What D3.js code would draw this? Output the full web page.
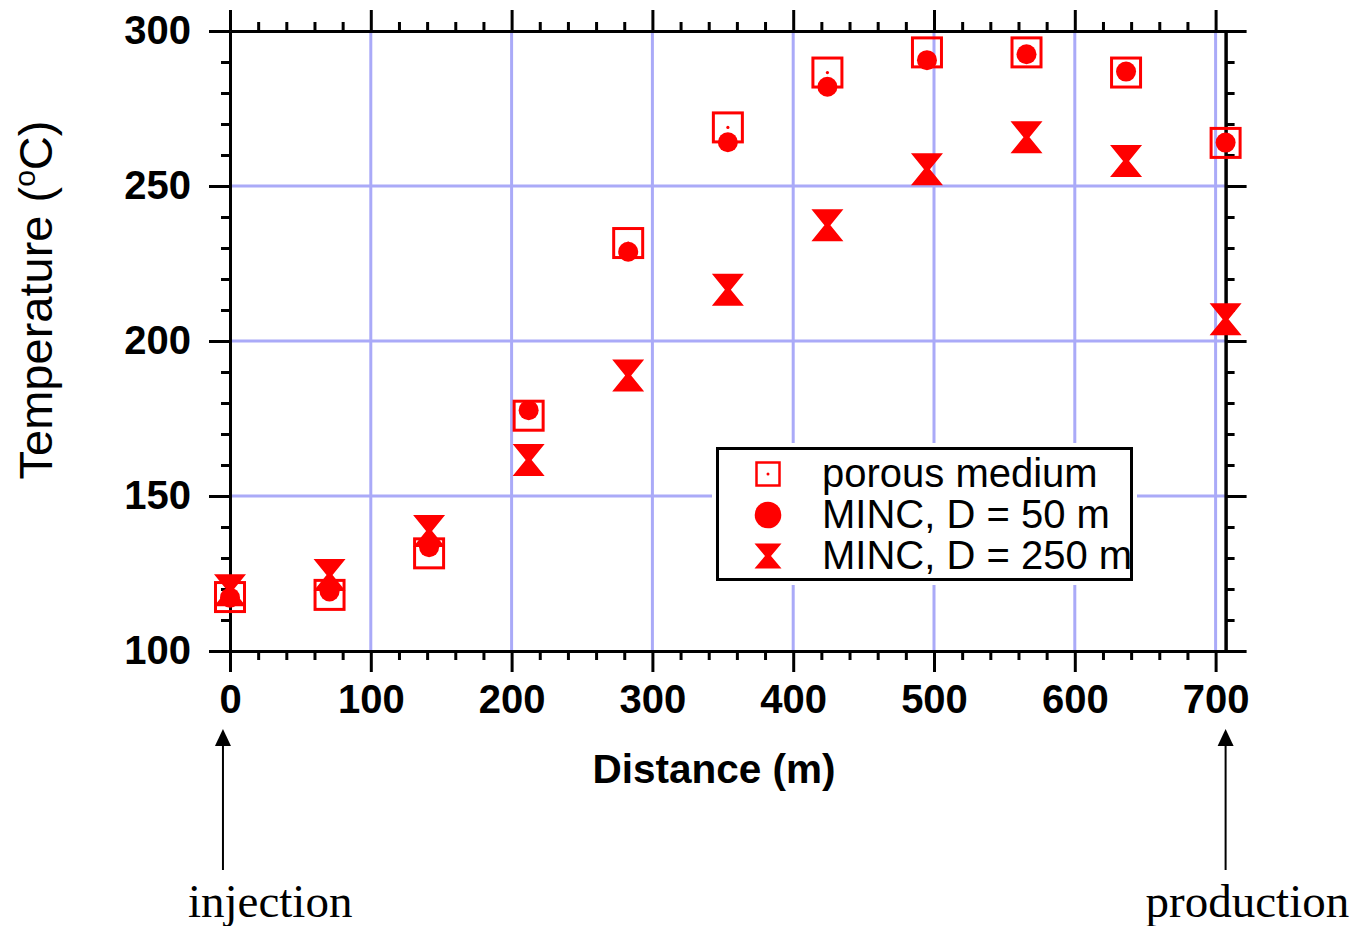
<!DOCTYPE html>
<html>
<head>
<meta charset="utf-8">
<script src="https://cdn.jsdelivr.net/npm/d3@7"></script>
<style>
  body { margin: 0; background: #fff; }
  svg { display: block; }
</style>
</head>
<body>
<svg class="chart"></svg>
<script>
// distance along the flow path (m)
var distance = [0, 70.7, 141.4, 212.1, 282.8, 353.6, 424.3, 495.0, 565.7, 636.4, 707.1];
// temperatures (C)
var porous  = [117.4, 118.1, 131.5, 175.9, 231.6, 268.9, 286.6, 293.1, 293.1, 286.6, 263.9];
var minc50  = [117.2, 119.2, 133.5, 177.7, 228.8, 264.1, 282.0, 290.6, 292.5, 286.9, 264.0];
var minc250 = [119.6, 124.5, 138.7, 161.6, 188.9, 216.5, 237.3, 255.4, 265.7, 258.1, 207.0];

var seriesNames = ["porous medium", "MINC, D = 50 m", "MINC, D = 250 m"];
var xMajor = [0, 100, 200, 300, 400, 500, 600, 700];
var xMinor = [20, 40, 60, 80, 120, 140, 160, 180, 220, 240, 260, 280, 320, 340, 360, 380,
              420, 440, 460, 480, 520, 540, 560, 580, 620, 640, 660, 680];
var yMajor = [100, 150, 200, 250, 300];
var yMinor = [110, 120, 130, 140, 160, 170, 180, 190, 210, 220, 230, 240, 260, 270, 280, 290];
var xGrid = [100, 200, 300, 400, 500, 600, 700];
var yGrid = [150, 200, 250];

var W = 1354, H = 926;
var pL = 230, pR = 1225.6, pT = 31, pB = 651;
var red = "#ff0000", gridCol = "#aaaaf8";
var sans = "'Liberation Sans', Arial, sans-serif";
var serif = "'Liberation Serif', 'Times New Roman', serif";

var x = d3.scaleLinear().domain([0, 707.1]).range([pL, pR]);
var y = d3.scaleLinear().domain([100, 300]).range([pB, pT]);

var svg = d3.select(".chart").attr("width", W).attr("height", H);
svg.append("rect").attr("width", W).attr("height", H).attr("fill", "#fff");

// grid
svg.append("g").selectAll("line").data(xGrid).enter().append("line")
    .attr("x1", x).attr("x2", x).attr("y1", pT).attr("y2", pB)
    .attr("stroke", gridCol).attr("stroke-width", 3);
svg.append("g").selectAll("line").data(yGrid).enter().append("line")
    .attr("x1", pL).attr("x2", pR)
    .attr("y1", function(d) { return y(d); }).attr("y2", function(d) { return y(d); })
    .attr("stroke", gridCol).attr("stroke-width", 3);

// axes on all four sides, ticks pointing out
function styleAxis(g) {
  g.selectAll("path, line").attr("stroke", "#000").attr("stroke-width", 3);
  g.selectAll("text").attr("font-family", sans).attr("font-weight", "bold")
    .attr("font-size", 40).attr("fill", "#000");
}
var noLabel = function() { return ""; };

svg.append("g").attr("transform", "translate(0," + pB + ")")
    .call(d3.axisBottom(x).tickValues(xMajor).tickSize(21).tickSizeOuter(0).tickPadding(13).tickFormat(d3.format("d")))
    .call(styleAxis);
svg.append("g").attr("transform", "translate(0," + pB + ")")
    .call(d3.axisBottom(x).tickValues(xMinor).tickSize(9).tickSizeOuter(0).tickFormat(noLabel))
    .call(styleAxis);
svg.append("g").attr("transform", "translate(0," + pT + ")")
    .call(d3.axisTop(x).tickValues(xMajor).tickSize(21).tickSizeOuter(0).tickFormat(noLabel))
    .call(styleAxis);
svg.append("g").attr("transform", "translate(0," + pT + ")")
    .call(d3.axisTop(x).tickValues(xMinor).tickSize(9).tickSizeOuter(0).tickFormat(noLabel))
    .call(styleAxis);
svg.append("g").attr("transform", "translate(" + pL + ",0)")
    .call(d3.axisLeft(y).tickValues(yMajor).tickSize(21).tickSizeOuter(0).tickPadding(18).tickFormat(d3.format("d")))
    .call(styleAxis);
svg.append("g").attr("transform", "translate(" + pL + ",0)")
    .call(d3.axisLeft(y).tickValues(yMinor).tickSize(9).tickSizeOuter(0).tickFormat(noLabel))
    .call(styleAxis);
svg.append("g").attr("transform", "translate(" + pR + ",0)")
    .call(d3.axisRight(y).tickValues(yMajor).tickSize(21).tickSizeOuter(0).tickFormat(noLabel))
    .call(styleAxis);
svg.append("g").attr("transform", "translate(" + pR + ",0)")
    .call(d3.axisRight(y).tickValues(yMinor).tickSize(9).tickSizeOuter(0).tickFormat(noLabel))
    .call(styleAxis);

// markers
function hourglass(w, h, n) {
  return "M" + (-w) + "," + (-h) + "L" + w + "," + (-h) + "L" + n + ",0L" + w + "," + h +
         "L" + (-w) + "," + h + "L" + (-n) + ",0Z";
}

var pts = distance.map(function(d, i) {
  return { x: d, p: porous[i], m50: minc50[i], m250: minc250[i] };
});

var sq = svg.append("g").selectAll("g").data(pts).enter().append("g")
    .attr("transform", function(d) { return "translate(" + x(d.x) + "," + y(d.p) + ")"; });
sq.append("rect").attr("x", -14.5).attr("y", -14.5).attr("width", 29).attr("height", 29)
    .attr("fill", "none").attr("stroke", red).attr("stroke-width", 3);
sq.append("circle").attr("r", 1.6).attr("fill", red);

svg.append("g").selectAll("circle").data(pts).enter().append("circle")
    .attr("cx", function(d) { return x(d.x); })
    .attr("cy", function(d) { return y(d.m50); })
    .attr("r", 10)
    .attr("fill", red);

svg.append("g").selectAll("path").data(pts).enter().append("path")
    .attr("d", hourglass(16, 16, 3))
    .attr("transform", function(d) { return "translate(" + x(d.x) + "," + y(d.m250) + ")"; })
    .attr("fill", red);

// legend
var lg = svg.append("g");
lg.append("rect").attr("x", 712).attr("y", 443).attr("width", 425).attr("height", 142).attr("fill", "#fff");
lg.append("rect").attr("x", 717.5).attr("y", 448.5).attr("width", 414).attr("height", 131)
    .attr("fill", "#fff").attr("stroke", "#000").attr("stroke-width", 3);
var rowY = [474, 515, 556];
lg.append("rect").attr("x", 768 - 11.5).attr("y", rowY[0] - 11.5).attr("width", 23).attr("height", 23)
    .attr("fill", "none").attr("stroke", red).attr("stroke-width", 2.5);
lg.append("circle").attr("cx", 768).attr("cy", rowY[0]).attr("r", 1.5).attr("fill", red);
lg.append("circle").attr("cx", 768).attr("cy", rowY[1]).attr("r", 13.3).attr("fill", red);
lg.append("path").attr("d", hourglass(13.5, 12.5, 3))
    .attr("transform", "translate(768," + rowY[2] + ")").attr("fill", red);
lg.selectAll("text").data(seriesNames).enter().append("text")
    .attr("x", 822)
    .attr("y", function(d, i) { return rowY[i] + 13; })
    .attr("font-family", sans).attr("font-size", 40).attr("fill", "#000")
    .text(function(d) { return d; });

// axis titles
svg.append("text")
    .attr("x", 714).attr("y", 783)
    .attr("text-anchor", "middle")
    .attr("font-family", sans).attr("font-weight", "bold").attr("font-size", 40.5)
    .text("Distance (m)");

var yt = svg.append("text")
    .attr("transform", "translate(52,300) rotate(-90)")
    .attr("text-anchor", "middle")
    .attr("font-family", sans).attr("font-size", 47);
yt.append("tspan").text("Temperature (");
yt.append("tspan").attr("font-size", 30).attr("dy", -17).text("o");
yt.append("tspan").attr("dy", 17).text("C)");

// injection / production arrows
var marks = [
  { label: "injection", at: -5, dx: -35 },
  { label: "production", at: 707.1, dx: -80 }
];
var ann = svg.append("g").selectAll("g").data(marks).enter().append("g")
    .attr("transform", function(d) { return "translate(" + x(d.at) + ",0)"; });
ann.append("line").attr("x1", 0).attr("x2", 0).attr("y1", 870).attr("y2", 744)
    .attr("stroke", "#000").attr("stroke-width", 2);
ann.append("path").attr("d", "M0,729L8,746L-8,746Z").attr("fill", "#000");
ann.append("text")
    .attr("x", function(d) { return d.dx; }).attr("y", 917)
    .attr("font-family", serif).attr("font-size", 47).attr("fill", "#000")
    .text(function(d) { return d.label; });
</script>
</body>
</html>
